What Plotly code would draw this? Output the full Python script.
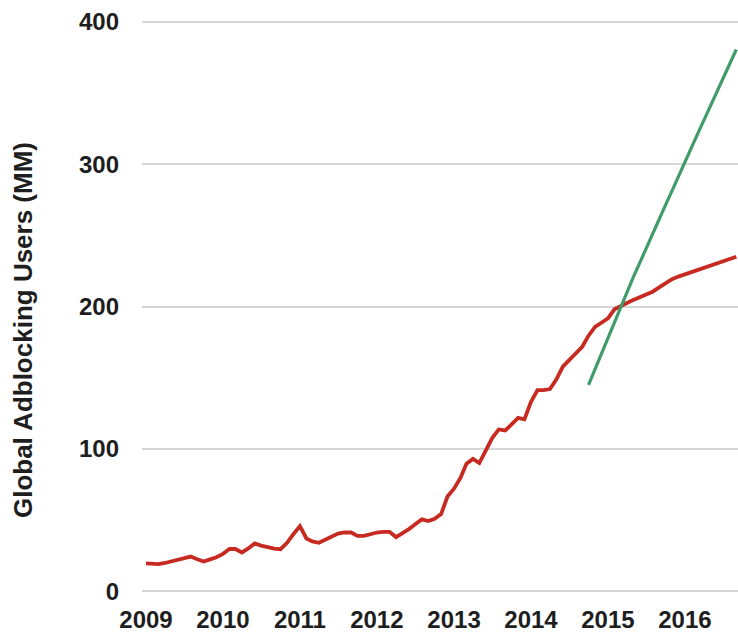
import pandas as pd
import plotly.graph_objects as go

months = pd.date_range("2009-01-01", periods=93, freq="MS")

adblock_users = [
    19.5, 19.3, 19.0, 19.8, 20.8, 22.0, 23.4, 24.3, 22.4, 20.8, 22.3, 23.8,
    26.2, 29.6, 29.6, 27.2, 30.0, 33.5, 32.0, 30.8, 29.9, 29.5, 34.0, 40.0,
    45.7, 37.0, 35.0, 34.0, 36.0, 38.2, 40.5, 41.3, 41.2, 38.8, 38.8, 40.0,
    41.2, 41.7, 41.7, 38.0, 40.4, 43.6, 47.0, 50.4, 49.2, 50.8, 54.2, 66.5,
    72.0, 79.7, 89.5, 92.9, 90.0, 99.6, 107.6, 113.6, 112.9, 117.2, 121.8, 120.7,
    133.0, 141.3, 141.3, 142.0, 148.7, 157.7, 162.0, 166.6, 171.7, 179.5, 185.7, 188.6,
    191.7, 198.0, 200.3, 202.5, 204.5, 206.3, 208.0, 210.4, 213.4, 216.6, 219.2, 221.0,
    222.6, 224.2, 225.8, 227.4, 228.9, 230.4, 232.0, 233.4, 235.0,
]

trend_start = 69
trend_users = [
    145.0, 156.0, 167.0, 178.0, 189.0, 199.6, 210.0, 220.4, 230.7, 241.0, 251.0, 261.0,
    271.2, 281.2, 291.4, 301.3, 311.2, 321.1, 331.1, 341.0, 350.9, 360.8, 370.7, 380.6,
]

year_ticks = ["2009", "2010", "2011", "2012", "2013", "2014", "2015", "2016"]
y_ticks = [0, 100, 200, 300, 400]
y_title = "Global Adblocking Users (MM)"

font_family = "Liberation Sans, Arial, sans-serif"
text_color = "#1e1e1e"

fig = go.Figure()
fig.add_trace(go.Scatter(
    x=months, y=adblock_users, mode="lines",
    line=dict(color="#c62a20", width=3.8), showlegend=False,
))
fig.add_trace(go.Scatter(
    x=months[trend_start:trend_start + len(trend_users)], y=trend_users, mode="lines",
    line=dict(color="#3f9c68", width=3.2), showlegend=False,
))

fig.update_layout(
    width=738, height=634,
    margin=dict(l=142, r=0, t=19, b=40, autoexpand=False),
    paper_bgcolor="white", plot_bgcolor="white",
    font=dict(family=font_family, color=text_color),
)
fig.update_xaxes(
    range=["2008-12-13", "2016-09-09"],
    tickvals=[f"{y}-01-01" for y in year_ticks],
    ticktext=year_ticks,
    tickfont=dict(size=24, family=font_family, color=text_color, weight="bold"),
    showgrid=False, zeroline=False, showline=False, ticks="",
    ticklabelstandoff=9, automargin=False,
)
fig.update_yaxes(
    range=[-2, 402],
    tickvals=y_ticks,
    tickfont=dict(size=24, family=font_family, color=text_color, weight="bold"),
    showgrid=True, gridcolor="#d6d6d6", gridwidth=2,
    zeroline=False, showline=False, ticks="",
    ticklabelstandoff=22, automargin=False,
)
fig.add_annotation(
    text=y_title, textangle=-90, showarrow=False,
    xref="paper", yref="paper", x=-0.1997, y=0.459,
    xanchor="center", yanchor="middle",
    font=dict(size=26, family=font_family, color=text_color, weight="bold"),
)

fig.write_html(
    "out.html",
    config={"displayModeBar": False},
    post_script="document.body.style.margin='0';document.body.style.overflow='hidden';",
)
